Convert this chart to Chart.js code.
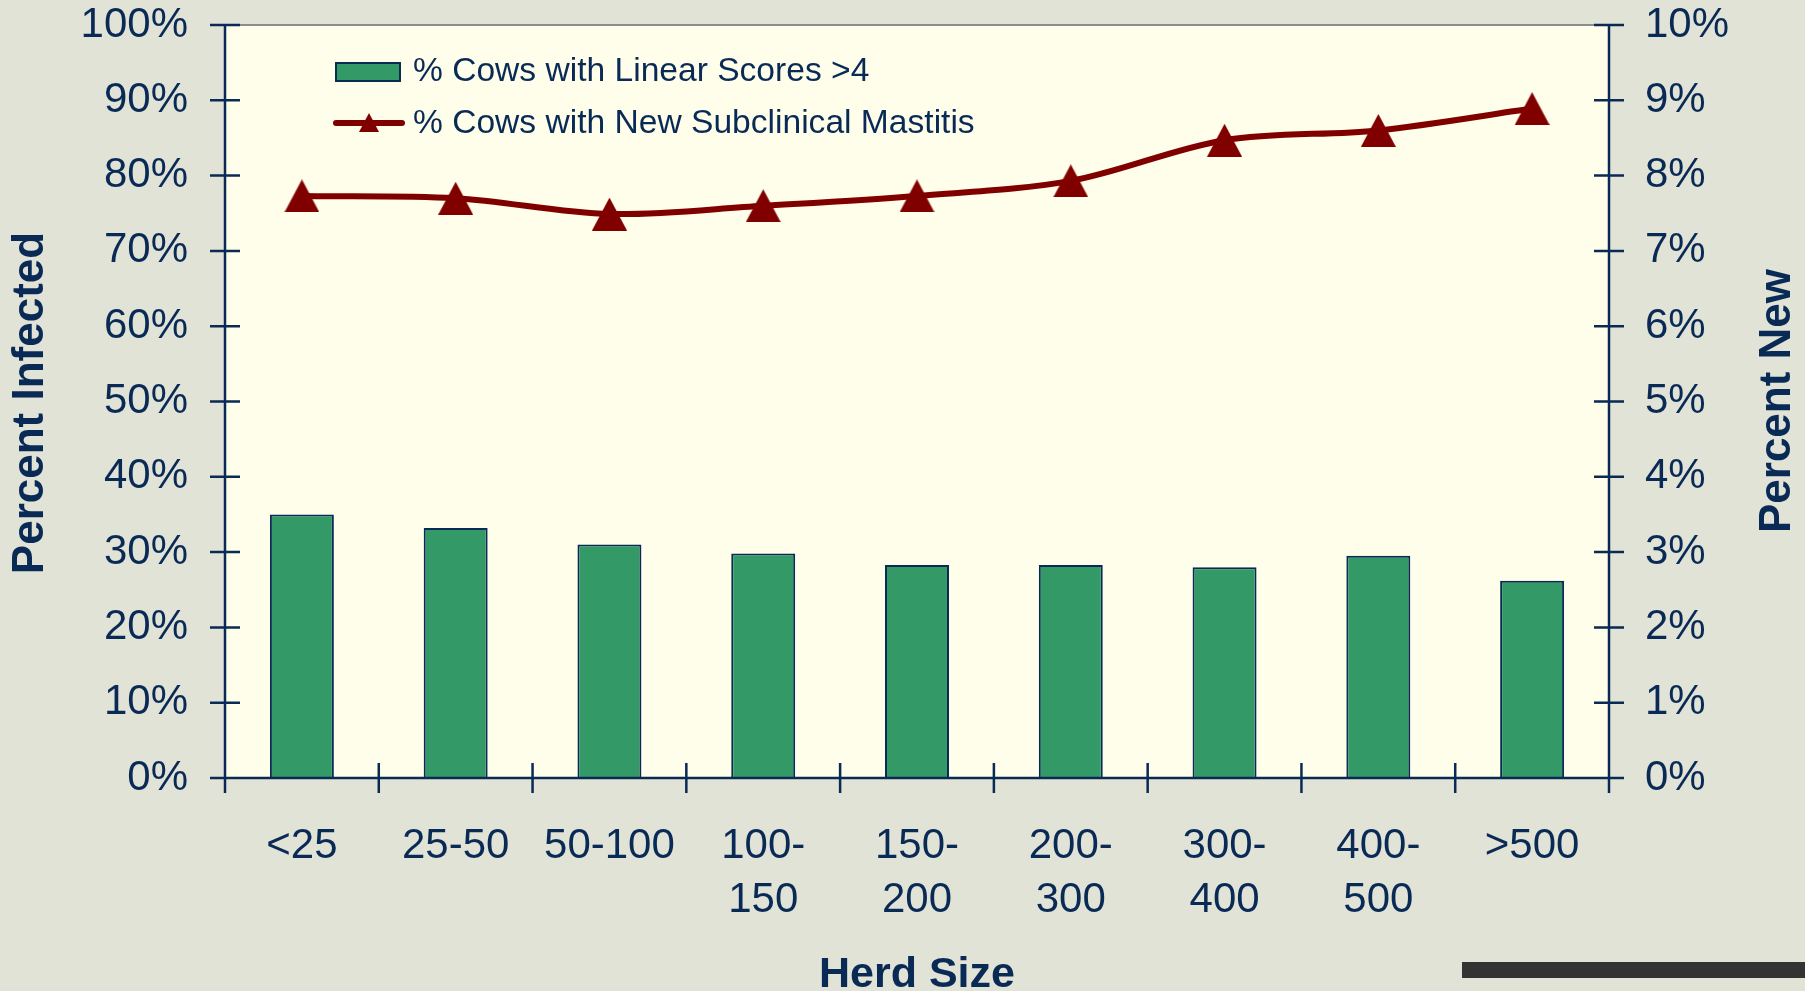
<!DOCTYPE html>
<html>
<head>
<meta charset="utf-8">
<script src="https://cdn.jsdelivr.net/npm/chart.js@4.4.1/dist/chart.umd.min.js"></script>
<style>
  html, body { margin: 0; padding: 0; }
  body { width: 1805px; height: 991px; background: #e2e3d7; position: relative; overflow: hidden; }
  #chart { position: absolute; left: 0; top: 0; }
  .slide-bar { position: absolute; left: 1462px; top: 962px; width: 343px; height: 16px; background: #333333; }
</style>
</head>
<body>
<canvas id="chart" width="1805" height="991"></canvas>
<div class="slide-bar"></div>
<script>
// herd size groups (x axis)
const herdSizes = ['<25', '25-50', '50-100', ['100-', '150'], ['150-', '200'], ['200-', '300'], ['300-', '400'], ['400-', '500'], '>500'];

// % cows with linear scores > 4 (left axis, %)
const linearScoreHigh = [35.0, 33.2, 31.0, 29.8, 28.3, 28.3, 28.0, 29.5, 26.2];

// % cows with new subclinical mastitis (right axis, %)
const newSubclinical = [7.73, 7.70, 7.49, 7.60, 7.73, 7.93, 8.47, 8.60, 8.89];

const seriesNames = ['% Cows with Linear Scores >4', '% Cows with New Subclinical Mastitis'];

const NAVY = '#0a2a56';
const GREEN = '#339966';
const RED = '#800000';

Chart.defaults.font.family = "'Liberation Sans', Arial, sans-serif";
Chart.defaults.color = NAVY;

// excel-like triangle marker, centred in its box
const marker = document.createElement('canvas');
marker.width = 35;
marker.height = 33;
(function () {
    const m = marker.getContext('2d');
    m.fillStyle = RED;
    m.beginPath();
    m.moveTo(17.5, 0);
    m.lineTo(35, 33);
    m.lineTo(0, 33);
    m.closePath();
    m.fill();
})();

const frame = {
    id: 'frame',
    beforeDraw(chart) {
        const { ctx, chartArea: a } = chart;
        ctx.save();
        ctx.fillStyle = '#fefeea';
        ctx.fillRect(a.left, a.top, a.right - a.left, a.bottom - a.top);
        ctx.restore();
    },
    afterDatasetsDraw(chart) {
        const { ctx, chartArea: a, scales } = chart;
        ctx.save();
        // top border
        ctx.strokeStyle = '#8c8c8c';
        ctx.lineWidth = 2;
        ctx.beginPath();
        ctx.moveTo(a.left, a.top);
        ctx.lineTo(a.right, a.top);
        ctx.stroke();

        ctx.strokeStyle = NAVY;
        ctx.lineWidth = 2.5;
        ctx.beginPath();
        ctx.moveTo(a.left, a.top);
        ctx.lineTo(a.left, a.bottom + 15);
        ctx.moveTo(a.right, a.top);
        ctx.lineTo(a.right, a.bottom + 15);
        ctx.moveTo(a.left - 15, a.bottom);
        ctx.lineTo(a.right + 15, a.bottom);
        scales.y.ticks.forEach(t => {
            const py = scales.y.getPixelForValue(t.value);
            ctx.moveTo(a.left - 15, py);
            ctx.lineTo(a.left + 15, py);
        });
        scales.y1.ticks.forEach(t => {
            const py = scales.y1.getPixelForValue(t.value);
            ctx.moveTo(a.right - 15, py);
            ctx.lineTo(a.right + 15, py);
        });
        for (let i = 1; i < herdSizes.length; i++) {
            const px = scales.x.getPixelForValue(i - 0.5);
            ctx.moveTo(px, a.bottom - 15);
            ctx.lineTo(px, a.bottom + 15);
        }
        ctx.stroke();
        ctx.restore();
    },
    afterDraw(chart) {
        const { ctx } = chart;
        ctx.save();
        ctx.fillStyle = NAVY;

        // axis titles
        ctx.font = "bold 44px 'Liberation Sans', Arial, sans-serif";
        ctx.textAlign = 'center';
        ctx.textBaseline = 'alphabetic';
        ctx.save();
        ctx.translate(43, 403);
        ctx.rotate(-Math.PI / 2);
        ctx.fillText('Percent Infected', 0, 0);
        ctx.restore();
        ctx.save();
        ctx.translate(1790, 401);
        ctx.rotate(-Math.PI / 2);
        ctx.fillText('Percent New', 0, 0);
        ctx.restore();
        ctx.font = "bold 43px 'Liberation Sans', Arial, sans-serif";
        ctx.fillText('Herd Size', 917, 987);

        // legend
        ctx.fillStyle = GREEN;
        ctx.strokeStyle = NAVY;
        ctx.lineWidth = 2;
        ctx.fillRect(336, 63, 64, 18);
        ctx.strokeRect(336, 63, 64, 18);

        ctx.strokeStyle = RED;
        ctx.lineWidth = 6;
        ctx.lineCap = 'round';
        ctx.beginPath();
        ctx.moveTo(336, 123);
        ctx.lineTo(402, 123);
        ctx.stroke();
        ctx.fillStyle = RED;
        ctx.beginPath();
        ctx.moveTo(369, 113);
        ctx.lineTo(379, 132);
        ctx.lineTo(359, 132);
        ctx.closePath();
        ctx.fill();

        ctx.fillStyle = NAVY;
        ctx.font = "33.6px 'Liberation Sans', Arial, sans-serif";
        ctx.textAlign = 'left';
        ctx.textBaseline = 'middle';
        ctx.fillText(seriesNames[0], 413, 72);
        ctx.fillText(seriesNames[1], 413, 124);
        ctx.restore();
    }
};

new Chart(document.getElementById('chart'), {
    type: 'bar',
    data: {
        labels: herdSizes,
        datasets: [{
            type: 'line',
            label: seriesNames[1],
            data: newSubclinical,
            yAxisID: 'y1',
            order: 0,
            borderColor: RED,
            borderWidth: 6,
            tension: 0.33,
            pointStyle: marker,
            pointRadius: 17,
            fill: false
        }, {
            type: 'bar',
            label: seriesNames[0],
            data: linearScoreHigh,
            yAxisID: 'y',
            order: 1,
            backgroundColor: GREEN,
            borderColor: NAVY,
            borderWidth: 2,
            categoryPercentage: 1,
            barPercentage: 0.416
        }]
    },
    options: {
        responsive: false,
        devicePixelRatio: 1,
        animation: false,
        layout: { padding: { top: 25, left: 0, right: 0, bottom: 0 } },
        plugins: {
            legend: { display: false },
            tooltip: { enabled: false }
        },
        scales: {
            x: {
                grid: { display: false, drawTicks: false },
                border: { display: false },
                ticks: {
                    autoSkip: false,
                    maxRotation: 0,
                    padding: 41,
                    color: NAVY,
                    font: { size: 42, lineHeight: 1.3 }
                },
                afterFit(scale) { scale.height = 213; }
            },
            y: {
                position: 'left',
                min: 0,
                max: 100,
                grid: { display: false, drawTicks: false },
                border: { display: false },
                ticks: {
                    stepSize: 10,
                    padding: 37,
                    color: NAVY,
                    font: { size: 42 },
                    callback: v => v + '%'
                },
                afterFit(scale) {
                    scale.width = 225;
                    scale.paddingTop = 0;
                    scale.paddingBottom = 0;
                }
            },
            y1: {
                position: 'right',
                min: 0,
                max: 10,
                grid: { display: false, drawTicks: false },
                border: { display: false },
                ticks: {
                    stepSize: 1,
                    padding: 36,
                    color: NAVY,
                    font: { size: 42 },
                    callback: v => v + '%'
                },
                afterFit(scale) {
                    scale.width = 196;
                    scale.paddingTop = 0;
                    scale.paddingBottom = 0;
                }
            }
        }
    },
    plugins: [frame]
});
</script>
</body>
</html>
